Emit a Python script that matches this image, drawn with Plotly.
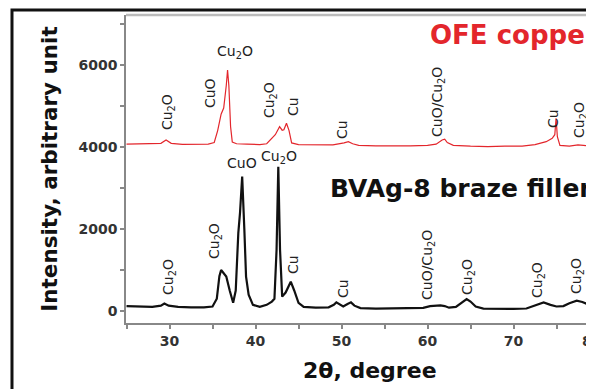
import plotly.graph_objects as go

# ---- data ----
ofe_x = [25.0, 26.5, 28.0, 29.0, 29.6, 30.2, 31.5, 33.0, 34.5, 35.2, 35.6, 36.0, 36.3, 36.6, 36.75,
         36.9, 37.1, 37.3, 37.8, 39.0, 40.5, 41.3, 41.8, 42.3, 42.8, 43.1, 43.3, 43.6, 43.9, 44.2,
         45.0, 47.0, 49.0, 50.3, 50.8, 51.3, 52.0, 54.0, 56.0, 58.0, 60.0, 61.0, 61.7, 62.0, 62.3,
         63.0, 65.0, 67.0, 69.0, 71.0, 72.5, 73.8, 74.5, 74.8, 74.95, 75.1, 75.4, 76.5, 77.5, 78.5, 79.4]
ofe_y = [4070, 4075, 4070, 4090, 4170, 4090, 4065, 4060, 4070, 4110, 4400, 4800, 4950, 5500, 5880,
         5500, 4500, 4120, 4080, 4070, 4060, 4080, 4200, 4300, 4495, 4410, 4420, 4580, 4400, 4100,
         4060, 4050, 4050, 4100, 4130, 4080, 4040, 4030, 4025, 4030, 4040, 4070, 4170, 4190, 4110,
         4040, 4020, 4010, 4020, 4020, 4060, 4130, 4210, 4300, 4700, 4250, 4040, 4020, 4050, 4030, 4020]

bvag_x = [25.0, 26.5, 28.0, 29.0, 29.4, 29.9, 31.0, 32.5, 34.0, 35.0, 35.5, 35.8, 36.0, 36.3, 36.6,
          37.0, 37.4, 37.7, 38.0, 38.2, 38.45, 38.7, 38.9, 39.2, 39.7, 40.5, 41.3, 41.9, 42.2, 42.45,
          42.65, 42.85, 43.1, 43.5, 44.1, 44.5, 45.0, 45.6, 47.0, 48.5, 49.1, 49.4, 49.8, 50.2, 50.7,
          51.1, 51.5, 52.2, 54.0, 56.0, 58.0, 59.5, 60.3, 60.8, 61.5, 62.0, 62.5, 63.3, 64.0, 64.55,
          65.0, 65.6, 66.5, 68.0, 70.0, 71.5, 72.5, 73.5, 74.3, 75.0, 75.8, 76.5, 77.35, 78.0, 78.8, 79.4]
bvag_y = [120, 110, 100, 130, 180, 130, 100, 90, 90, 110, 300, 850, 1000, 920, 840,
          500, 200, 500, 1900, 2400, 3280, 2000, 840, 400, 150, 100, 150, 230, 300, 1500,
          3520, 1500, 350, 450, 715, 500, 200, 100, 80, 90, 150, 210, 160, 110, 170,
          210, 130, 70, 60, 60, 65, 75, 120, 130, 135, 120, 80, 100, 200, 290,
          230, 110, 60, 50, 50, 60, 130, 210, 150, 110, 120, 190, 250, 220, 150, 120]

CU2O = "Cu<sub>2</sub>O"
ofe_labels = [CU2O, "CuO", CU2O, CU2O, "Cu", "Cu", "CuO/" + CU2O, "Cu", CU2O]
ofe_label_x = [29.83, 34.71, 37.6, 41.69, 44.36, 50.06, 61.22, 74.59, 77.73]
ofe_label_y = [4854, 5317, 6317, 5146, 4976, 4415, 5098, 4707, 4659]
ofe_label_rot = [-90, -90, 0, -90, -90, -90, -90, -90, -90]

bvag_labels = [CU2O, CU2O, "CuO", CU2O, "Cu", "Cu", "CuO/" + CU2O, CU2O, CU2O, CU2O]
bvag_label_x = [29.94, 35.29, 38.43, 42.73, 44.36, 50.17, 60.06, 64.71, 72.85, 77.38]
bvag_label_y = [829, 1707, 3610, 3756, 1122, 561, 1122, 829, 756, 854]
bvag_label_rot = [-90, -90, 0, 0, -90, -90, -90, -90, -90, -90]

x_ticks = [30, 40, 50, 60, 70, 80]
y_ticks = [0, 2000, 4000, 6000]

# ---- figure ----
fig = go.Figure()
fig.add_trace(go.Scatter(x=ofe_x, y=ofe_y, mode="lines", name="OFE copper",
                         line=dict(color="#e3262c", width=1.2), showlegend=False))
fig.add_trace(go.Scatter(x=bvag_x, y=bvag_y, mode="lines", name="BVAg-8 braze filler",
                         line=dict(color="#111111", width=2.2), showlegend=False))

annotations = []
lab_font = dict(family="DejaVu Sans", size=14, color="#222222")
for t, x, y, r in zip(ofe_labels, ofe_label_x, ofe_label_y, ofe_label_rot):
    annotations.append(dict(x=x, y=y, xref="x", yref="y", text=t, textangle=r, showarrow=False,
                            font=lab_font, xanchor="center", yanchor="middle"))
for t, x, y, r in zip(bvag_labels, bvag_label_x, bvag_label_y, bvag_label_rot):
    annotations.append(dict(x=x, y=y, xref="x", yref="y", text=t, textangle=r, showarrow=False,
                            font=lab_font, xanchor="center", yanchor="middle"))

annotations.append(dict(x=0.6453, y=0.935, xref="paper", yref="paper", text="OFE copper",
                        showarrow=False, xanchor="left", yanchor="middle",
                        font=dict(family="DejaVu Sans", size=26, color="#e3262c", weight="bold")))
annotations.append(dict(x=0.4316, y=0.438, xref="paper", yref="paper", text="BVAg-8 braze filler",
                        showarrow=False, xanchor="left", yanchor="middle",
                        font=dict(family="DejaVu Sans", size=25, color="#111111", weight="bold")))
# x-axis title (centred on the full axis of the original, which is cropped on the right)
annotations.append(dict(x=0.5214, y=-0.1526, xref="paper", yref="paper", text="2θ, degree",
                        showarrow=False, xanchor="center", yanchor="middle",
                        font=dict(family="DejaVu Sans", size=22, color="#111111", weight="bold")))

tick_font = dict(family="DejaVu Sans", size=14, color="#333333", weight="bold")
title_font = dict(family="DejaVu Sans", size=21.5, color="#111111", weight="bold")

# last tick label sits at the cropped right edge, as in the original
annotations.append(dict(x=0.9957, y=-0.060, xref="paper", yref="paper", text=str(x_ticks[-1]),
                        showarrow=False, xanchor="center", yanchor="middle", font=tick_font))

# page body has an 8px margin, so the figure is 8px smaller and margins shifted
fig.update_layout(
    template="none",
    width=586, height=381,
    margin=dict(l=118, r=0, t=7, b=66),
    paper_bgcolor="white", plot_bgcolor="white",
    annotations=annotations,
    xaxis=dict(range=[24.94, 79.36], tickvals=x_ticks, ticks="outside", ticklen=4, tickwidth=1.5,
               tickcolor="#888888", showline=True, linecolor="#888888", linewidth=1.5,
               showgrid=False, zeroline=False, tickfont=tick_font,
               minor=dict(dtick=5, tick0=25, ticks="outside", ticklen=4, tickcolor="#888888")),
    yaxis=dict(range=[-293, 7220], tickvals=y_ticks, ticks="outside", ticklen=4, tickwidth=1.5,
               tickcolor="#888888", showline=True, linecolor="#888888", linewidth=1.5,
               showgrid=False, zeroline=False, tickfont=tick_font,
               minor=dict(dtick=1000, tick0=0, ticks="outside", ticklen=4, tickcolor="#888888"),
               title=dict(text="Intensity, arbitrary unit", font=title_font, standoff=15)),
    shapes=[
        dict(type="line", xref="paper", yref="paper", x0=0, x1=1, y0=1, y1=1,
             line=dict(color="#bbbbbb", width=2.5)),
        dict(type="rect", xref="paper", yref="paper", x0=-0.2436, x1=1.3, y0=-0.3, y1=1.0162,
             line=dict(color="#111111", width=3)),
    ],
)

fig.write_html("out.html")
